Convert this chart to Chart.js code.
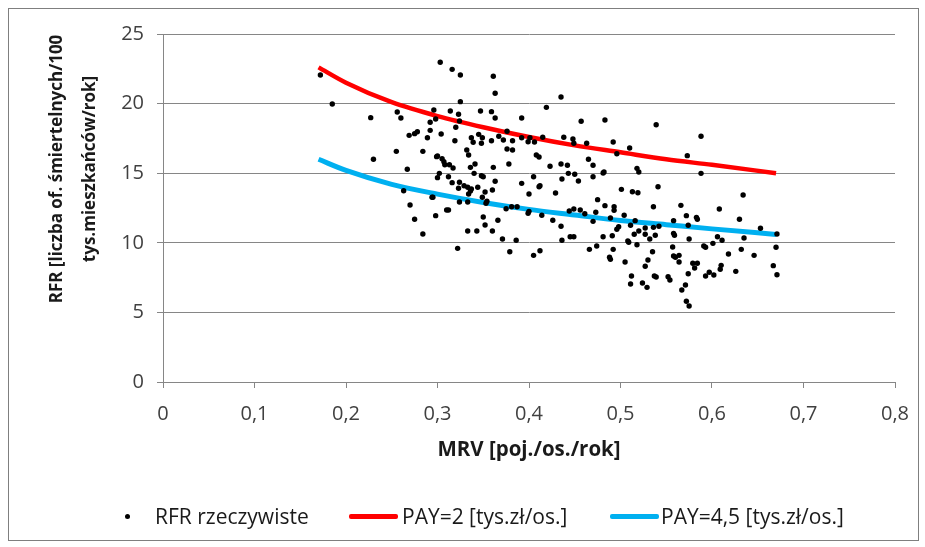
<!DOCTYPE html>
<html>
<head>
<meta charset="utf-8">
<script src="https://cdn.jsdelivr.net/npm/chart.js@4.4.0/dist/chart.umd.min.js"></script>
<style>
    body { margin: 0; background: #fff; }
    #frame { position: absolute; left: 8px; top: 8px; width: 909px; height: 531px; border: 1px solid #7f7f7f; background: #fff; }
    #chart { position: absolute; left: 0; top: 0; }
    .leg { position: absolute; top: 495px; height: 24px; line-height: 24px; font-family: "Open Sans", sans-serif; font-size: 21px; color: #1a1a1a; white-space: nowrap; }
    .dot { position: absolute; width: 5px; height: 5px; border-radius: 50%; background: #000; }
    .bar { position: absolute; height: 5px; border-radius: 2px; }
</style>
</head>
<body>
<div id="frame">
    <canvas id="chart" width="909" height="531"></canvas>
    <div class="dot" style="left:116px; top:505px;"></div>
    <div class="leg" style="left:146px;">RFR rzeczywiste</div>
    <div class="bar" style="left:340px; top:505px; width:49px; background:#ff0000;"></div>
    <div class="leg" style="left:393px;">PAY=2 [tys.zł/os.]</div>
    <div class="bar" style="left:601px; top:505px; width:49px; background:#00b0f0;"></div>
    <div class="leg" style="left:652px;">PAY=4,5 [tys.zł/os.]</div>
</div>
<script>
// RFR rzeczywiste - punkty
const rfrX = [0.172,0.185,0.227,0.256,0.260,0.230,0.255,0.303,0.316,0.325,
    0.361,0.363,0.325,0.435,0.419,0.296,0.314,0.323,0.347,0.359,
    0.298,0.324,0.363,0.392,0.457,0.483,0.292,0.320,0.269,0.275,
    0.278,0.292,0.304,0.289,0.319,0.337,0.339,0.345,0.349,0.348,
    0.359,0.367,0.372,0.376,0.382,0.376,0.382,0.392,0.399,0.401,
    0.406,0.415,0.438,0.448,0.449,0.463,0.492,0.496,0.510,0.284,
    0.332,0.334,0.299,0.300,0.305,0.307,0.308,0.313,0.317,0.336,
    0.341,0.361,0.378,0.408,0.411,0.423,0.435,0.442,0.465,0.470,
    0.267,0.302,0.300,0.312,0.316,0.324,0.329,0.323,0.333,0.337,
    0.340,0.348,0.350,0.344,0.363,0.360,0.352,0.334,0.336,0.349,
    0.354,0.353,0.324,0.333,0.294,0.295,0.263,0.392,0.400,0.405,
    0.411,0.412,0.429,0.436,0.443,0.450,0.454,0.470,0.481,0.482,
    0.518,0.520,0.501,0.513,0.519,0.475,0.483,0.493,0.493,0.375,
    0.381,0.387,0.400,0.399,0.414,0.444,0.449,0.456,0.461,0.473,
    0.489,0.504,0.516,0.310,0.312,0.298,0.270,0.275,0.350,0.366,
    0.352,0.426,0.435,0.470,0.498,0.284,0.333,0.343,0.360,0.322,
    0.371,0.386,0.379,0.405,0.412,0.436,0.445,0.449,0.466,0.474,
    0.481,0.491,0.492,0.488,0.489,0.505,0.508,0.509,0.518,0.512,
    0.511,0.524,0.529,0.527,0.530,0.532,0.527,0.520,0.515,0.511,
    0.496,0.539,0.588,0.573,0.588,0.541,0.634,0.536,0.566,0.608,
    0.572,0.583,0.584,0.558,0.574,0.630,0.653,0.527,0.536,0.542,
    0.671,0.535,0.538,0.537,0.539,0.552,0.554,0.557,0.558,0.560,
    0.564,0.564,0.558,0.559,0.567,0.571,0.572,0.575,0.574,0.575,
    0.579,0.584,0.581,0.591,0.593,0.593,0.597,0.602,0.601,0.606,
    0.611,0.609,0.610,0.618,0.626,0.632,0.635,0.646,0.670,0.667,
    0.671];
const rfrY = [22.05,19.97,18.99,19.40,18.97,16.00,16.57,22.97,22.46,22.05,
    21.96,20.74,20.14,20.47,19.73,19.54,19.47,19.23,19.47,19.42,
    18.89,18.75,18.97,18.97,18.73,18.82,18.66,18.30,17.72,17.84,
    17.98,18.08,17.82,17.55,17.33,17.55,17.22,17.79,17.55,17.15,
    17.33,17.65,17.39,18.01,17.33,16.74,16.67,17.55,17.26,17.55,
    17.24,17.58,17.58,17.46,17.15,17.15,17.24,16.40,16.81,16.57,
    16.67,16.31,16.19,16.24,16.04,15.83,15.61,15.61,15.37,15.42,
    15.66,15.42,15.66,16.31,16.16,15.50,15.66,15.57,16.00,15.57,
    15.28,14.99,14.68,14.75,14.32,14.35,14.10,13.92,13.99,13.87,
    14.99,14.82,14.75,13.99,14.42,13.79,13.65,13.51,13.72,13.27,
    12.98,12.84,12.93,12.93,13.27,13.27,13.74,14.27,13.51,14.75,
    14.03,14.10,13.58,14.58,14.99,14.92,14.44,14.75,15.01,15.09,
    15.35,15.09,13.84,13.67,13.60,13.10,12.67,12.59,12.33,12.45,
    12.59,12.59,12.26,12.12,11.98,12.28,12.43,12.36,12.09,12.19,
    11.78,11.98,11.59,12.36,12.36,11.95,12.72,11.69,11.85,11.62,
    11.28,11.62,11.19,11.54,11.16,10.63,10.85,10.85,10.85,9.60,
    10.27,10.18,9.36,9.10,9.43,10.18,10.44,10.44,9.53,9.77,
    10.44,10.51,9.53,8.96,8.81,8.62,10.13,10.04,9.86,7.61,
    7.04,7.11,6.80,8.31,8.76,10.27,10.61,10.85,10.61,11.26,
    10.97,18.48,17.65,16.26,14.99,14.03,13.43,12.59,12.69,12.43,
    11.95,11.83,11.69,11.59,11.26,11.69,11.04,11.06,11.11,11.19,
    10.63,9.36,10.54,7.61,7.54,7.56,7.33,9.70,9.05,8.96,
    8.62,9.10,10.68,10.54,6.61,6.97,5.80,5.46,7.78,10.27,
    8.53,8.53,8.19,9.77,9.68,7.61,7.88,7.69,9.96,10.44,
    10.18,8.10,8.38,9.20,7.95,9.53,10.34,9.10,9.68,8.36,
    7.71];

// krzywe modelu
const curveX = [0.17,0.20,0.25,0.30,0.35,0.40,0.45,0.50,0.55,0.60,0.67];
const pay2Y = [22.6,21.5,20.1,19.1,18.3,17.6,17.0,16.5,16.0,15.6,15.0];
const pay45Y = [16.0,15.2,14.2,13.5,12.9,12.4,12.0,11.6,11.3,11.0,10.6];

const xTickLabels = ['0','0,1','0,2','0,3','0,4','0,5','0,6','0,7','0,8'];
const yTickLabels = ['0','5','10','15','20','25'];
const yTitleLines = ['RFR [liczba of. śmiertelnych/100', 'tys.mieszkańców/rok]'];

const pts = (xs, ys) => xs.map((x, i) => ({ x: x, y: ys[i] }));

const tickFont = { family: 'Open Sans', size: 20 };
const gridColor = '#868686';

// tytuł osi Y w dwóch liniach, przesunięty nieco w górę jak w Excelu
const yTitlePlugin = {
    id: 'yTitle',
    afterDraw(chart) {
        const ctx = chart.ctx;
        ctx.save();
        ctx.translate(48, 160);
        ctx.rotate(-Math.PI / 2);
        ctx.font = 'bold 17px "Open Sans"';
        ctx.fillStyle = '#1a1a1a';
        ctx.textAlign = 'center';
        ctx.textBaseline = 'middle';
        yTitleLines.forEach((t, i) => ctx.fillText(t, 0, i * 33));
        ctx.restore();
    }
};

new Chart(document.getElementById('chart'), {
    type: 'scatter',
    data: {
        datasets: [
            {
                label: 'RFR rzeczywiste',
                data: pts(rfrX, rfrY),
                backgroundColor: '#000',
                borderWidth: 0,
                pointRadius: 2.7
            },
            {
                label: 'PAY=2 [tys.zł/os.]',
                data: pts(curveX, pay2Y),
                showLine: true,
                borderColor: '#ff0000',
                borderWidth: 4.5,
                pointRadius: 0,
                cubicInterpolationMode: 'monotone'
            },
            {
                label: 'PAY=4,5 [tys.zł/os.]',
                data: pts(curveX, pay45Y),
                showLine: true,
                borderColor: '#00b0f0',
                borderWidth: 5,
                pointRadius: 0,
                cubicInterpolationMode: 'monotone'
            }
        ]
    },
    options: {
        responsive: false,
        animation: false,
        layout: { padding: { left: 0, right: 23, top: 25, bottom: 68 } },
        plugins: {
            legend: { display: false },
            tooltip: { enabled: false }
        },
        scales: {
            x: {
                type: 'linear',
                min: 0,
                max: 0.8,
                afterFit: (s) => { s.height = 90; s.paddingRight = 15; },
                border: { color: gridColor, width: 1 },
                grid: { drawOnChartArea: false, color: gridColor, tickLength: 6 },
                ticks: {
                    stepSize: 0.1,
                    padding: 14,
                    color: '#404040',
                    font: tickFont,
                    maxRotation: 0,
                    callback: (v) => xTickLabels[Math.round(v * 10)]
                },
                title: {
                    display: true,
                    text: 'MRV [poj./os./rok]',
                    color: '#1a1a1a',
                    font: { family: 'Open Sans', size: 20.5, weight: 'bold' },
                    padding: { top: 0, bottom: 10 }
                }
            },
            y: {
                min: 0,
                max: 25,
                afterFit: (s) => { s.width = 154; },
                border: { color: gridColor, width: 1 },
                grid: { color: gridColor, tickLength: 6 },
                ticks: {
                    stepSize: 5,
                    padding: 13,
                    color: '#404040',
                    font: tickFont,
                    callback: (v) => yTickLabels[Math.round(v / 5)]
                }
            }
        }
    },
    plugins: [yTitlePlugin]
});
</script>
</body>
</html>
